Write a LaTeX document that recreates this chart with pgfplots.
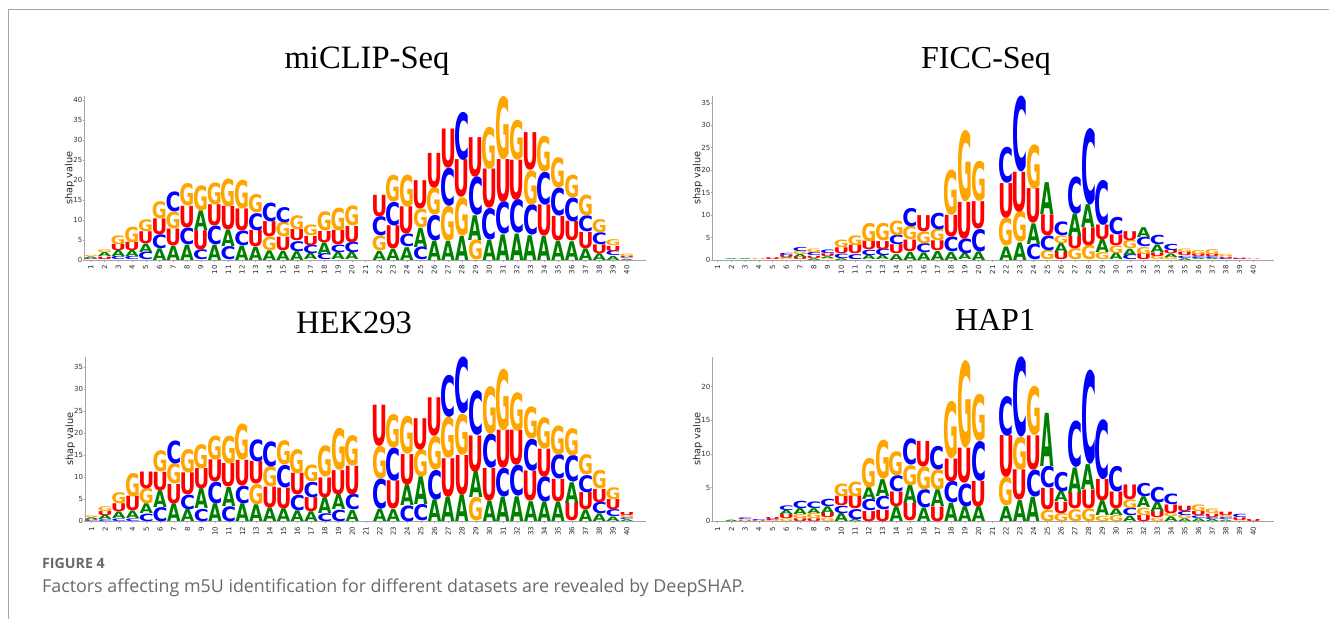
\documentclass[border=0pt]{standalone}
\usepackage{pgfplots}
\usepackage{fontspec}
\pgfplotsset{compat=1.18}
\setmainfont{DejaVu Sans}
\newfontfamily\titlefont{Liberation Serif}
\newfontfamily\capfont{Open Sans}
\definecolor{lA}{RGB}{0,128,0}
\definecolor{lC}{RGB}{0,0,255}
\definecolor{lG}{RGB}{255,165,0}
\definecolor{lU}{RGB}{255,0,0}
\definecolor{axgray}{RGB}{165,165,165}
\definecolor{framegray}{RGB}{165,165,165}
\definecolor{capgray}{RGB}{105,105,105}
\newcommand\ltrA{\textcolor{lA}{\bfseries A}}
\newcommand\ltrC{\textcolor{lC}{\bfseries C}}
\newcommand\ltrG{\textcolor{lG}{\bfseries G}}
\newcommand\ltrU{\textcolor{lU}{\bfseries U}}
\newcommand\wdA{13.4pt}
\newcommand\wdC{15pt}
\newcommand\wdG{15pt}
\newcommand\wdU{16pt}

\pgfplotsset{
  logoaxis/.style={
    scale only axis,
    anchor=south west,
    axis lines=left,
    axis line style={axgray,line width=1pt,-},
    x axis line style={line width=0.8pt},
    xmin=0.53, xmax=41.4,
    xtick={1,...,40},
    xticklabel style={rotate=90,font=\fontsize{7}{8}\selectfont,anchor=east,xshift=-0.5pt,text=black!85},
    yticklabel style={font=\fontsize{7}{8}\selectfont,text=black!80,xshift=3pt},
    tick style={axgray,line width=0.4pt},
    major tick length=1.5pt,
    tick align=outside,
    ymin=0,
    ylabel={shap value},
    ylabel style={font=\fontsize{9.8}{11}\selectfont,text=black!85,yshift=-8pt},
    /pgf/number format/assume math mode=true,
    clip=false,
  },
  logoplot/.style={
    only marks, mark=*, mark size=0pt, draw=none, fill=none,
    visualization depends on={value \thisrow{y0}\as\ya},
    visualization depends on={value \thisrow{y1}\as\yb},
    visualization depends on={value \thisrow{L}\as\lt},
    nodes near coords={\pgfmathsetmacro\hp{(\yb-\ya)*\kk}\resizebox*{\csname wd\lt\endcsname}{\hp pt}{\csname ltr\lt\endcsname}},
    every node near coord/.style={anchor=south,inner sep=0pt,outer sep=0pt},
  },
}

\begin{document}
\begin{tikzpicture}
\path[use as bounding box] (0,0) rectangle (1329pt,619pt);
\draw[framegray,line width=1pt] (8pt,0pt) -- (8pt,609pt) -- (1329pt,609pt);

\def\kk{4.0}
\begin{axis}[logoaxis, at={(84.3pt,359pt)}, width=561.7pt, height=164pt,
  ymax=41, ytick={0,5,...,40}]
\addplot[logoplot] table[x=x,y=y0,row sep=\\]{
x y0 y1 L\\
1 0 0.2 C\\ 1 0.2 0.4 U\\ 1 0.4 0.8 A\\ 1 0.8 1.1 G\\
2 0 0.2 C\\ 2 0.2 0.8 U\\ 2 0.8 1.8 A\\ 2 1.8 2.5 G\\
3 0 0.8 C\\ 3 0.8 2.3 A\\ 3 2.3 3.9 U\\ 3 3.9 6.1 G\\
4 0 0.8 C\\ 4 0.8 2.3 A\\ 4 2.3 4.4 U\\ 4 4.4 8.3 G\\
5 0 1.9 C\\ 5 1.9 4 A\\ 5 4 7 U\\ 5 7 10 G\\
6 0 2.9 A\\ 6 2.9 6.4 C\\ 6 6.4 10.4 U\\ 6 10.4 14.7 G\\
7 0 3.6 A\\ 7 3.6 7.8 U\\ 7 7.8 12 G\\ 7 12 17 C\\
8 0 3.8 A\\ 8 3.8 8 C\\ 8 8 13.4 U\\ 8 13.4 19 G\\
9 0 2.5 C\\ 9 2.5 7.3 U\\ 9 7.3 12.2 A\\ 9 12.2 18.5 G\\
10 0 3.8 A\\ 10 3.8 8.5 C\\ 10 8.5 13.8 U\\ 10 13.8 19.3 G\\
11 0 3.3 C\\ 11 3.3 7.4 A\\ 11 7.4 13.3 U\\ 11 13.3 20.3 G\\
12 0 3.6 A\\ 12 3.6 7.3 C\\ 12 7.3 12.8 U\\ 12 12.8 20 G\\
13 0 3.3 A\\ 13 3.3 7.4 U\\ 13 7.4 11.7 C\\ 13 11.7 16.3 G\\
14 0 2.4 A\\ 14 2.4 5.8 G\\ 14 5.8 9.6 U\\ 14 9.6 14.3 C\\
15 0 2.3 A\\ 15 2.3 5.7 U\\ 15 5.7 9.4 G\\ 15 9.4 13.2 C\\
16 0 2.2 A\\ 16 2.2 4.7 C\\ 16 4.7 7.5 U\\ 16 7.5 11 G\\
17 0 1.6 A\\ 17 1.6 3.7 C\\ 17 3.7 6 U\\ 17 6 8.7 G\\
18 0 1.5 C\\ 18 1.5 4.4 A\\ 18 4.4 7.2 U\\ 18 7.2 12 G\\
19 0 1.8 A\\ 19 1.8 3.7 C\\ 19 3.7 7.3 U\\ 19 7.3 13 G\\
20 0 1.8 A\\ 20 1.8 4.4 C\\ 20 4.4 8.5 U\\ 20 8.5 13.5 G\\
22 0 2.3 A\\ 22 2.3 6 G\\ 22 6 10.8 C\\ 22 10.8 16.2 U\\
23 0 2.8 A\\ 23 2.8 8.6 U\\ 23 8.6 14.5 C\\ 23 14.5 21.2 G\\
24 0 3.2 A\\ 24 3.2 6.4 C\\ 24 6.4 13.2 U\\ 24 13.2 21.2 G\\
25 0 3.2 C\\ 25 3.2 8 A\\ 25 8 12.7 G\\ 25 12.7 19.8 U\\
26 0 4.8 A\\ 26 4.8 11.2 C\\ 26 11.2 18 G\\ 26 18 26.7 U\\
27 0 4.8 A\\ 27 4.8 13.5 G\\ 27 13.5 23 C\\ 27 23 32.8 U\\
28 0 6 A\\ 28 6 15.6 G\\ 28 15.6 25 U\\ 28 25 37 C\\
29 0 5 G\\ 29 5 11.2 A\\ 29 11.2 20.8 C\\ 29 20.8 30.7 U\\
30 0 5 A\\ 30 5 12.9 C\\ 30 12.9 22.7 U\\ 30 22.7 33.2 G\\
31 0 6.4 A\\ 31 6.4 14.5 C\\ 31 14.5 25.2 U\\ 31 25.2 41 G\\
32 0 6.6 A\\ 32 6.6 15 C\\ 32 15 25 U\\ 32 25 35 G\\
33 0 6.2 A\\ 33 6.2 13.8 C\\ 33 13.8 22.4 G\\ 33 22.4 31.8 U\\
34 0 6 A\\ 34 6 13.8 U\\ 34 13.8 22 C\\ 34 22 31 G\\
35 0 4.8 A\\ 35 4.8 10.9 U\\ 35 10.9 17.9 C\\ 35 17.9 25.5 G\\
36 0 4.7 A\\ 36 4.7 9.6 U\\ 36 9.6 15.6 C\\ 36 15.6 21.3 G\\
37 0 2.9 A\\ 37 2.9 7 U\\ 37 7 11 C\\ 37 11 16.2 G\\
38 0 1.7 A\\ 38 1.7 3.9 U\\ 38 3.9 6.9 C\\ 38 6.9 10.2 G\\
39 0 1 A\\ 39 1 2.2 C\\ 39 2.2 3.5 U\\ 39 3.5 5 G\\
40 0 0.3 A\\ 40 0.3 0.5 C\\ 40 0.5 0.8 U\\ 40 0.8 1.4 G\\
};
\end{axis}
\def\kk{4.49}
\begin{axis}[logoaxis, at={(712.3pt,359pt)}, width=561.7pt, height=164pt,
  xmin=0.61, xmax=41.5, ymax=36.5, ytick={0,5,...,35}]
\addplot[logoplot] table[x=x,y=y0,row sep=\\]{
x y0 y1 L\\
2 0 0.2 A\\
3 0 0.2 A\\
4 0 0.1 U\\
5 0 0.2 G\\ 5 0.2 0.6 U\\
6 0 0.3 G\\ 6 0.3 0.5 A\\ 6 0.5 1 U\\ 6 1 1.5 C\\
7 0 0.5 U\\ 7 0.5 1.2 A\\ 7 1.2 1.9 G\\ 7 1.9 2.8 C\\
8 0 0.4 A\\ 8 0.4 0.9 U\\ 8 0.9 1.6 C\\ 8 1.6 2.4 G\\
9 0 0.4 G\\ 9 0.4 0.8 A\\ 9 0.8 1.4 U\\ 9 1.4 2.2 C\\
10 0 0.4 A\\ 10 0.4 1.4 C\\ 10 1.4 2.7 U\\ 10 2.7 4.4 G\\
11 0 0.2 A\\ 11 0.2 1.3 C\\ 11 1.3 3.2 U\\ 11 3.2 5.4 G\\
12 0 1 A\\ 12 1 2.2 C\\ 12 2.2 4.1 U\\ 12 4.1 8.2 G\\
13 0 0.9 A\\ 13 0.9 2.4 C\\ 13 2.4 4.2 U\\ 13 4.2 8.1 G\\
14 0 1.3 A\\ 14 1.3 3.3 U\\ 14 3.3 5.4 C\\ 14 5.4 8.7 G\\
15 0 1.8 A\\ 15 1.8 4.4 U\\ 15 4.4 7.4 G\\ 15 7.4 11.5 C\\
16 0 1.7 A\\ 16 1.7 3.7 C\\ 16 3.7 6.3 G\\ 16 6.3 9.9 U\\
17 0 2 A\\ 17 2 4.2 U\\ 17 4.2 6.8 G\\ 17 6.8 10.5 C\\
18 0 1.8 A\\ 18 1.8 5.1 C\\ 18 5.1 9.9 U\\ 18 9.9 20 G\\
19 0 1.4 A\\ 19 1.4 4.7 C\\ 19 4.7 12.9 U\\ 19 12.9 28.8 G\\
20 0 1.9 A\\ 20 1.9 6.9 C\\ 20 6.9 13 U\\ 20 13 21.9 G\\
22 0 3 A\\ 22 3 9.3 G\\ 22 9.3 17 U\\ 22 17 25 C\\
23 0 3.9 A\\ 23 3.9 10.7 G\\ 23 10.7 19.6 U\\ 23 19.6 36.5 C\\
24 0 3.5 C\\ 24 3.5 8.1 A\\ 24 8.1 15.8 U\\ 24 15.8 25.7 G\\
25 0 2.1 G\\ 25 2.1 5.4 C\\ 25 5.4 10.1 U\\ 25 10.1 17.2 A\\
26 0 1.7 U\\ 26 1.7 3.7 A\\ 26 3.7 5.4 G\\ 26 5.4 8.5 C\\
27 0 2.5 G\\ 27 2.5 5.3 U\\ 27 5.3 10.3 A\\ 27 10.3 18.6 C\\
28 0 3.2 G\\ 28 3.2 7.2 U\\ 28 7.2 12.3 A\\ 28 12.3 29.3 C\\
29 0 1.6 G\\ 29 1.6 4.5 A\\ 29 4.5 7.8 U\\ 29 7.8 17.8 C\\
30 0 1.5 A\\ 30 1.5 3.2 G\\ 30 3.2 5.6 U\\ 30 5.6 9.5 C\\
31 0 1.1 C\\ 31 1.1 2.5 A\\ 31 2.5 4.4 G\\ 31 4.4 6.4 U\\
32 0 1.3 U\\ 32 1.3 2.9 G\\ 32 2.9 5 C\\ 32 5 7.2 A\\
33 0 0.8 G\\ 33 0.8 1.6 U\\ 33 1.6 3.3 A\\ 33 3.3 5.4 C\\
34 0 0.6 G\\ 34 0.6 1.4 A\\ 34 1.4 2.1 U\\ 34 2.1 3.5 C\\
35 0 0.4 A\\ 35 0.4 0.9 C\\ 35 0.9 1.6 U\\ 35 1.6 2.4 G\\
36 0 0.3 A\\ 36 0.3 0.7 C\\ 36 0.7 1.3 U\\ 36 1.3 2.2 G\\
37 0 0.3 A\\ 37 0.3 0.7 C\\ 37 0.7 1.2 U\\ 37 1.2 2.3 G\\
38 0 0.15 A\\ 38 0.15 0.4 C\\ 38 0.4 0.7 U\\ 38 0.7 1.2 G\\
39 0 0.2 C\\ 39 0.2 0.5 U\\
40 0 0.1 U\\
};
\end{axis}
\def\kk{4.42}
\begin{axis}[logoaxis, at={(85pt,97.7pt)}, width=561pt, height=164.3pt,
  ymax=37.2, ytick={0,5,...,35}]
\addplot[logoplot] table[x=x,y=y0,row sep=\\]{
x y0 y1 L\\
1 0 0.2 C\\ 1 0.2 0.4 U\\ 1 0.4 0.8 A\\ 1 0.8 1.2 G\\
2 0 0.4 C\\ 2 0.4 1.4 A\\ 2 1.4 2.3 U\\ 2 2.3 3.4 G\\
3 0 0.6 C\\ 3 0.6 2.1 A\\ 3 2.1 3.9 U\\ 3 3.9 6.4 G\\
4 0 0.6 C\\ 4 0.6 2.3 A\\ 4 2.3 5.6 U\\ 4 5.6 10.9 G\\
5 0 1.7 C\\ 5 1.7 3.9 A\\ 5 3.9 7.4 G\\ 5 7.4 11.2 U\\
6 0 3.2 C\\ 6 3.2 7 A\\ 6 7 11.2 U\\ 6 11.2 16 G\\
7 0 4 A\\ 7 4 8.4 U\\ 7 8.4 13 G\\ 7 13 18.2 C\\
8 0 2.7 A\\ 8 2.7 6 C\\ 8 6 11 U\\ 8 11 16.3 G\\
9 0 2.8 C\\ 9 2.8 7.3 A\\ 9 7.3 11.9 U\\ 9 11.9 17.4 G\\
10 0 4 A\\ 10 4 8.9 C\\ 10 8.9 13.9 U\\ 10 13.9 19.3 G\\
11 0 3.4 C\\ 11 3.4 7.7 A\\ 11 7.7 13 U\\ 11 13 19.3 G\\
12 0 4 A\\ 12 4 8 C\\ 12 8 13.8 U\\ 12 13.8 22 G\\
13 0 3.8 A\\ 13 3.8 8.4 G\\ 13 8.4 13.5 U\\ 13 13.5 18.5 C\\
14 0 3.1 A\\ 14 3.1 7.8 U\\ 14 7.8 12.4 G\\ 14 12.4 18.1 C\\
15 0 2.9 A\\ 15 2.9 7.6 U\\ 15 7.6 12.7 C\\ 15 12.7 18.2 G\\
16 0 2.4 A\\ 16 2.4 5.9 C\\ 16 5.9 10.8 U\\ 16 10.8 16.3 G\\
17 0 2.2 A\\ 17 2.2 5.4 U\\ 17 5.4 8.9 C\\ 17 8.9 12.7 G\\
18 0 1.8 C\\ 18 1.8 5.4 A\\ 18 5.4 9.9 U\\ 18 9.9 17 G\\
19 0 2.6 C\\ 19 2.6 6 A\\ 19 6 11.5 U\\ 19 11.5 21 G\\
20 0 2.5 A\\ 20 2.5 6 C\\ 20 6 12.5 U\\ 20 12.5 19.4 G\\
22 0 2.8 A\\ 22 2.8 9.6 C\\ 22 9.6 17 G\\ 22 17 26.3 U\\
23 0 2.7 A\\ 23 2.7 9.1 U\\ 23 9.1 16.6 C\\ 23 16.6 24.2 G\\
24 0 3.6 C\\ 24 3.6 8.3 A\\ 24 8.3 15.2 U\\ 24 15.2 23.8 G\\
25 0 3.7 C\\ 25 3.7 10 A\\ 25 10 16.2 G\\ 25 16.2 23.3 U\\
26 0 4.9 A\\ 26 4.9 11.6 C\\ 26 11.6 19.2 G\\ 26 19.2 27.9 U\\
27 0 5.5 A\\ 27 5.5 14.2 U\\ 27 14.2 23.5 G\\ 27 23.5 33 C\\
28 0 6 A\\ 28 6 15 U\\ 28 15 24.3 G\\ 28 24.3 37.1 C\\
29 0 5.3 G\\ 29 5.3 11.2 A\\ 29 11.2 19.4 U\\ 29 19.4 29.5 C\\
30 0 4.6 A\\ 30 4.6 12 U\\ 30 12 19.7 C\\ 30 19.7 30.5 G\\
31 0 5.5 A\\ 31 5.5 12 C\\ 31 12 20.6 U\\ 31 20.6 34.5 G\\
32 0 5.6 A\\ 32 5.6 12.6 C\\ 32 12.6 20.5 U\\ 32 20.5 29.2 G\\
33 0 4.5 A\\ 33 4.5 11.3 U\\ 33 11.3 18.5 C\\ 33 18.5 25.8 G\\
34 0 4.4 A\\ 34 4.4 10.1 C\\ 34 10.1 16.4 U\\ 34 16.4 23.5 G\\
35 0 4.4 A\\ 35 4.4 9.5 U\\ 35 9.5 15 C\\ 35 15 21.6 G\\
36 0 4.1 U\\ 36 4.1 8.8 A\\ 36 8.8 14.8 C\\ 36 14.8 21 G\\
37 0 2.6 A\\ 37 2.6 6.5 U\\ 37 6.5 10.4 C\\ 37 10.4 15 G\\
38 0 1.7 A\\ 38 1.7 4.3 C\\ 38 4.3 7.3 U\\ 38 7.3 11.5 G\\
39 0 1 A\\ 39 1 2.6 C\\ 39 2.6 4.9 U\\ 39 4.9 7.6 G\\
40 0 0.4 A\\ 40 0.4 0.8 C\\ 40 0.8 1.4 G\\ 40 1.4 2.1 U\\
};
\end{axis}
\def\kk{6.73}
\begin{axis}[logoaxis, at={(712.3pt,97.7pt)}, width=561.7pt, height=164.3pt,
  xmin=0.61, xmax=41.5, ymax=24.4, ytick={0,5,...,20}]
\addplot[logoplot] table[x=x,y=y0,row sep=\\]{
x y0 y1 L\\
2 0 0.2 A\\
3 0 0.1 U\\ 3 0.1 0.2 G\\ 3 0.2 0.45 C\\
4 0 0.1 U\\ 4 0.1 0.25 C\\
5 0 0.15 G\\ 5 0.15 0.3 C\\ 5 0.3 0.6 U\\
6 0 0.4 G\\ 6 0.4 1 U\\ 6 1 1.6 A\\ 6 1.6 2.3 C\\
7 0 0.4 U\\ 7 0.4 1 G\\ 7 1 1.9 A\\ 7 1.9 3 C\\
8 0 0.4 U\\ 8 0.4 1.2 G\\ 8 1.2 1.9 A\\ 8 1.9 2.9 C\\
9 0 0.5 G\\ 9 0.5 1.2 U\\ 9 1.2 2.2 A\\ 9 2.2 3.3 C\\
10 0 1.2 A\\ 10 1.2 2.3 C\\ 10 2.3 3.7 U\\ 10 3.7 5.6 G\\
11 0 0.3 A\\ 11 0.3 1.8 C\\ 11 1.8 3.7 U\\ 11 3.7 5.9 G\\
12 0 1.5 U\\ 12 1.5 3.2 C\\ 12 3.2 5 A\\ 12 5 9.4 G\\
13 0 1.7 U\\ 13 1.7 3.7 C\\ 13 3.7 6.2 A\\ 13 6.2 12 G\\
14 0 2.2 A\\ 14 2.2 4.4 U\\ 14 4.4 6.8 C\\ 14 6.8 10.4 G\\
15 0 2.6 U\\ 15 2.6 5.3 A\\ 15 5.3 8.3 G\\ 15 8.3 12.2 C\\
16 0 2 A\\ 16 2 4.7 C\\ 16 4.7 8.1 G\\ 16 8.1 11.9 U\\
17 0 2.2 U\\ 17 2.2 4.7 A\\ 17 4.7 7.7 G\\ 17 7.7 11.2 C\\
18 0 2.7 A\\ 18 2.7 5.9 C\\ 18 5.9 9.3 U\\ 18 9.3 17.8 G\\
19 0 2.2 A\\ 19 2.2 5.6 C\\ 19 5.6 10.8 U\\ 19 10.8 23.8 G\\
20 0 2.2 A\\ 20 2.2 6 U\\ 20 6 11.9 C\\ 20 11.9 18.9 G\\
22 0 2.2 A\\ 22 2.2 6.5 G\\ 22 6.5 12.7 U\\ 22 12.7 18.6 C\\
23 0 3.1 A\\ 23 3.1 7.6 U\\ 23 7.6 12.5 G\\ 23 12.5 24.4 C\\
24 0 3.6 A\\ 24 3.6 7.6 C\\ 24 7.6 12.7 U\\ 24 12.7 20 G\\
25 0 1.7 G\\ 25 1.7 4.9 U\\ 25 4.9 8.1 C\\ 25 8.1 16 A\\
26 0 1.2 G\\ 26 1.2 2.9 U\\ 26 2.9 4.4 A\\ 26 4.4 7.3 C\\
27 0 1.8 G\\ 27 1.8 4.2 U\\ 27 4.2 8 A\\ 27 8 14.9 C\\
28 0 1.9 G\\ 28 1.9 4.7 U\\ 28 4.7 8.4 A\\ 28 8.4 22.4 C\\
29 0 0.8 G\\ 29 0.8 3 A\\ 29 3 6.2 U\\ 29 6.2 15.1 C\\
30 0 0.9 G\\ 30 0.9 1.9 A\\ 30 1.9 4.4 U\\ 30 4.4 8.2 C\\
31 0 0.8 A\\ 31 0.8 1.9 C\\ 31 1.9 3.2 G\\ 31 3.2 5.4 U\\
32 0 0.9 U\\ 32 0.9 2 G\\ 32 2 3.6 A\\ 32 3.6 5.6 C\\
33 0 0.5 G\\ 33 0.5 1.4 U\\ 33 1.4 2.8 A\\ 33 2.8 5.1 C\\
34 0 0.7 A\\ 34 0.7 1.2 G\\ 34 1.2 2.5 U\\ 34 2.5 4.1 C\\
35 0 0.4 A\\ 35 0.4 0.9 G\\ 35 0.9 1.5 C\\ 35 1.5 2.3 U\\
36 0 0.4 A\\ 36 0.4 0.8 C\\ 36 0.8 1.4 U\\ 36 1.4 2.4 G\\
37 0 0.3 A\\ 37 0.3 0.6 C\\ 37 0.6 1.1 U\\ 37 1.1 1.8 G\\
38 0 0.2 A\\ 38 0.2 0.5 C\\ 38 0.5 0.8 G\\ 38 0.8 1.3 U\\
39 0 0.1 G\\ 39 0.1 0.5 U\\ 39 0.5 1 C\\
40 0 0.3 U\\
};
\end{axis}

\node[font=\titlefont\fontsize{32.6}{36}\selectfont] at (367pt,558pt) {miCLIP-Seq};
\node[font=\titlefont\fontsize{32}{36}\selectfont] at (986pt,558pt) {FICC-Seq};
\node[font=\titlefont\fontsize{32.6}{36}\selectfont] at (354pt,296pt) {HEK293};
\node[font=\titlefont\fontsize{32}{36}\selectfont] at (995pt,299pt) {HAP1};
\node[anchor=base west,inner sep=0pt,font=\capfont\bfseries\fontsize{14.2}{16}\selectfont,text=capgray] at (42pt,51pt) {FIGURE 4};
\node[anchor=base west,inner sep=0pt,font=\capfont\fontsize{17.85}{20}\selectfont,text=capgray] at (42pt,27pt) {Factors affecting m5U identification for different datasets are revealed by DeepSHAP.};
\end{tikzpicture}
\end{document}
